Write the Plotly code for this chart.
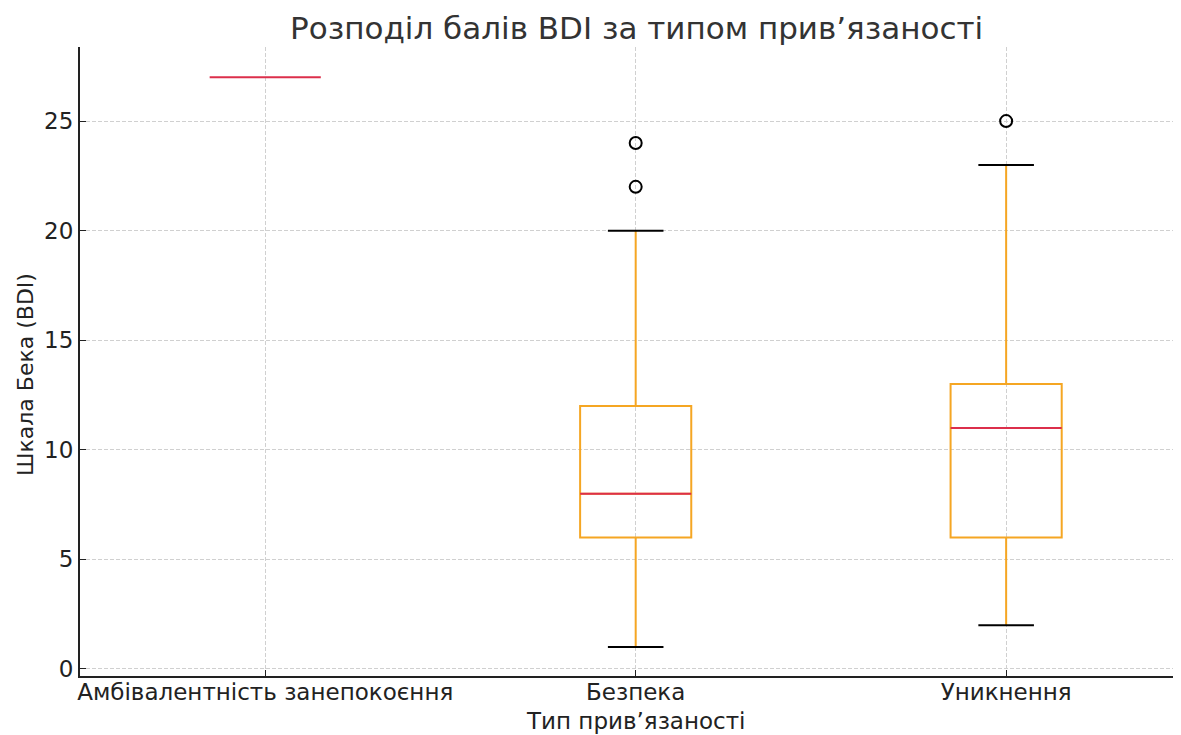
import plotly.graph_objects as go

categories = ["Амбівалентність занепокоєння", "Безпека", "Уникнення"]
lower_whisker = [27, 1, 2]
q1 = [27, 6, 6]
median = [27, 8, 11]
q3 = [27, 12, 13]
upper_whisker = [27, 20, 23]
outliers = [[], [22, 24], [25]]
yticks = [0, 5, 10, 15, 20, 25]

ORANGE = "#F5A623"
RED = "#DC2F4B"
BOX_W = 0.3
CAP_W = 0.15

fig = go.Figure()
xs = list(range(len(categories)))

for i, c in enumerate(categories):
    if q1[i] != q3[i]:
        fig.add_trace(go.Box(
            x=[i], q1=[q1[i]], median=[median[i]], q3=[q3[i]],
            lowerfence=[lower_whisker[i]], upperfence=[upper_whisker[i]],
            width=BOX_W, whiskerwidth=0, fillcolor="rgba(0,0,0,0)",
            line=dict(color=ORANGE, width=2), boxpoints=False,
            showlegend=False, hoverinfo="skip"))
        for v in (lower_whisker[i], upper_whisker[i]):
            fig.add_trace(go.Scatter(x=[i - CAP_W / 2, i + CAP_W / 2], y=[v, v], mode="lines",
                                     line=dict(color="black", width=2), showlegend=False, hoverinfo="skip"))
    fig.add_trace(go.Scatter(x=[i - BOX_W / 2, i + BOX_W / 2], y=[median[i], median[i]], mode="lines",
                             line=dict(color=RED, width=2), showlegend=False, hoverinfo="skip"))
    if outliers[i]:
        fig.add_trace(go.Scatter(x=[i] * len(outliers[i]), y=outliers[i], mode="markers",
                                 marker=dict(symbol="circle-open", size=12, color="black",
                                             line=dict(width=2, color="black")),
                                 showlegend=False, hoverinfo="skip"))

font = "DejaVu Sans, sans-serif"
GRID = dict(showgrid=True, gridcolor="#d0d0d0", griddash="4px,2px", gridwidth=1)
fig.update_layout(
    width=1173, height=727,
    margin=dict(l=72, r=0, t=39, b=59),
    paper_bgcolor="white", plot_bgcolor="white",
    font=dict(family=font, size=22, color="#222"),
    xaxis=dict(range=[-0.5, 2.472], tickmode="array", tickvals=xs, ticktext=categories,
               showline=True, linecolor="#222", linewidth=2, ticks="inside", ticklen=6,
               tickcolor="#222", zeroline=False, automargin=False, ticklabelstandoff=-6,
               tickfont=dict(size=23, color="#222"), **GRID),
    yaxis=dict(range=[-0.32, 28.38], tickmode="array", tickvals=yticks,
               showline=True, linecolor="#222", linewidth=2, ticks="inside", ticklen=6,
               tickcolor="#222", zeroline=False, automargin=False,
               tickfont=dict(size=23, color="#222"), **GRID),
    annotations=[
        dict(text="Розподіл балів BDI за типом прив’язаності", xref="paper", yref="paper",
             x=0.5, y=1, xanchor="center", yanchor="middle", showarrow=False,
             xshift=5.5, yshift=19,
             font=dict(size=31, color="#333")),
        dict(text="Тип прив’язаності", xref="paper", yref="paper",
             x=0.5, y=0, xanchor="center", yanchor="middle", showarrow=False,
             xshift=5.5, yshift=-45,
             font=dict(size=23, color="#222")),
        dict(text="Шкала Бека (BDI)", xref="paper", yref="paper", textangle=-90,
             x=0, y=0.5, xanchor="center", yanchor="middle", showarrow=False,
             xshift=-55, yshift=-13.5,
             font=dict(size=22, color="#222")),
    ],
)

fig.write_html("out.html")
